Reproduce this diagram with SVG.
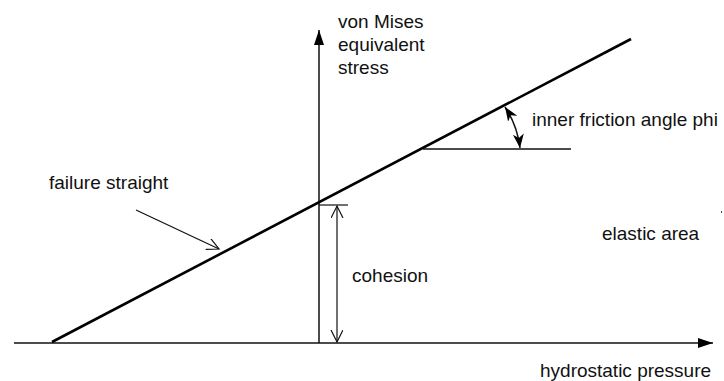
<svg xmlns="http://www.w3.org/2000/svg" width="724" height="381" viewBox="0 0 724 381">
<style>
text{font-family:"Liberation Sans",Arial,sans-serif;font-size:19px;fill:#111}
.ax{stroke:#111;stroke-width:1.5;fill:none}
.thin{stroke:#111;stroke-width:1.2;fill:none}
.thick{stroke:#000;stroke-width:2.6;fill:none}
</style>
<defs>
<marker id="fill" markerWidth="16" markerHeight="12" refX="15" refY="5" orient="auto" markerUnits="userSpaceOnUse"><path d="M0,0 L15,5 L0,10 Z" fill="#000"/></marker>
<marker id="fillSmall" markerWidth="16" markerHeight="12" refX="14" refY="5.5" orient="auto-start-reverse" markerUnits="userSpaceOnUse"><path d="M0,0 L14,5.5 L0,11 L4,5.5 Z" fill="#000"/></marker>
<marker id="open" markerWidth="14" markerHeight="14" refX="12" refY="6" orient="auto-start-reverse" markerUnits="userSpaceOnUse"><path d="M0,0 L12,6 L0,12" fill="none" stroke="#111" stroke-width="1.2"/></marker>
</defs>
<g id="connectors">
<line class="ax" x1="14" y1="343" x2="713" y2="343" marker-end="url(#fill)"/>
<line class="ax" x1="319" y1="343" x2="319" y2="30" marker-end="url(#fill)"/>
<line class="thick" x1="52" y1="342" x2="631" y2="39"/>
<line class="ax" x1="423" y1="149" x2="571" y2="149"/>
<line class="thin" x1="319" y1="205" x2="348" y2="205"/>
<line class="thin" x1="337" y1="206" x2="337" y2="342" marker-start="url(#open)" marker-end="url(#open)"/>
<path class="ax" d="M505,107 A95,95 0 0 1 520,148" marker-start="url(#fillSmall)" marker-end="url(#fillSmall)"/>
<line class="thin" x1="136" y1="210" x2="219" y2="249" marker-end="url(#open)"/>
</g>
<g id="yaxis-label"><text x="338" y="28">von Mises</text><text x="338" y="51">equivalent</text><text x="338" y="74">stress</text></g>
<g id="xaxis-label"><text x="540" y="377">hydrostatic pressure</text></g>
<g id="angle-label"><text x="532" y="126">inner friction angle phi</text></g>
<g id="failure-label"><text x="49" y="189">failure straight</text></g>
<g id="cohesion-label"><text x="352" y="282">cohesion</text></g>
<g id="elastic-label"><text x="602" y="240">elastic area</text></g>
<rect x="721" y="211" width="1" height="2" fill="#446"/>
</svg>
